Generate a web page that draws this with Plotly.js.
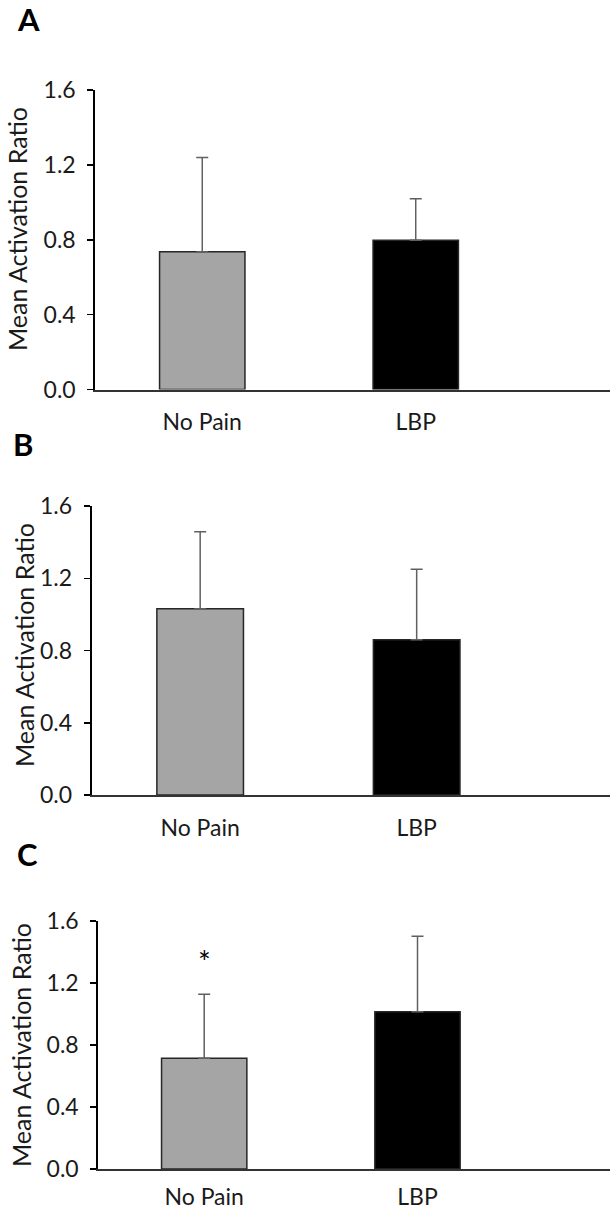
<!DOCTYPE html>
<html>
<head>
<meta charset="utf-8">
<script src="https://cdn.plot.ly/plotly-3.0.1.min.js"></script>
<style>html,body{margin:0;padding:0;background:#fff;}#chart{width:610px;height:1211px;}</style>
</head>
<body>
<div id="chart"></div>
<script>
// ---- data ----
var categories = ["No Pain", "LBP"];
var meansA = [0.736, 0.797];
var sdA = [0.504, 0.222];
var meansB = [1.031, 0.860];
var sdB = [0.427, 0.390];
var meansC = [0.714, 1.015];
var sdC = [0.413, 0.486];
var yTickVals = [0.0, 0.4, 0.8, 1.2, 1.6];
var yTickText = ["0.0", "0.4", "0.8", "1.2", "1.6"];
var panelLabels = ["A", "B", "C"];
var yTitle = "Mean Activation Ratio";
var sigMarkC = {x: "No Pain", y: 1.34, text: "*"};

// ---- layout helpers ----
var W = 610, H = 1211;
function px(x){ return x / W; }
function py(y){ return 1 - y / H; }
var FONT = "Lato, 'Open Sans', sans-serif";
var barColors = ["#a5a5a5", "#000000"];

function barTrace(means, sd, xa, ya){
  return {
    type: "bar", x: categories, y: means, xaxis: xa, yaxis: ya,
    width: 0.40,
    marker: {color: barColors, line: {color: "#262626", width: 1.5}},
    error_y: {type: "data", symmetric: false, array: sd, arrayminus: sd.map(function(){return 0;}),
              color: "#606060", thickness: 1.5, width: 6},
    showlegend: false, hoverinfo: "skip"
  };
}

var data = [
  barTrace(meansA, sdA, "x", "y"),
  barTrace(meansB, sdB, "x2", "y2"),
  barTrace(meansC, sdC, "x3", "y3")
];

// panel geometry in pixels
var panels = [
  {ax: 95.3, top: 90, bot: 389.5, xr: [-0.501, 1.910], xstand: 11},
  {ax: 91.7, top: 506, bot: 795, xr: [-0.501, 1.893], xstand: 11},
  {ax: 98.3, top: 921, bot: 1169, xr: [-0.4965, 1.9025], xstand: 6}
];

var TICK_SIZE = 23;
var layout = {
  width: W, height: H,
  margin: {l: 0, r: 0, t: 0, b: 0},
  paper_bgcolor: "#ffffff", plot_bgcolor: "rgba(0,0,0,0)",
  font: {family: FONT, color: "#1a1a1a", size: TICK_SIZE},
  bargap: 0, showlegend: false,
  annotations: []
};

var suffix = ["", "2", "3"];
panels.forEach(function(p, i){
  var xa = "xaxis" + suffix[i], ya = "yaxis" + suffix[i];
  layout[xa] = {
    domain: [px(p.ax), 1], range: p.xr, type: "category",
    anchor: "y" + suffix[i],
    showline: true, linecolor: "#333333", linewidth: 2,
    ticks: "", showgrid: false, zeroline: false,
    ticklabelstandoff: p.xstand,
    tickfont: {family: FONT, size: TICK_SIZE, color: "#1a1a1a"},
    fixedrange: true
  };
  layout[ya] = {
    domain: [py(p.bot), py(p.top)], range: [0, 1.6],
    anchor: "x" + suffix[i],
    tickvals: yTickVals, ticktext: yTickText,
    showline: true, linecolor: "#000000", linewidth: 2,
    ticks: "outside", ticklen: 6, tickwidth: 1.5, tickcolor: "#000000",
    ticklabelstandoff: 7,
    showgrid: false, zeroline: false,
    tickfont: {family: FONT, size: TICK_SIZE, color: "#1a1a1a"},
    fixedrange: true
  };
});

// y-axis titles (pixel centers)
var yTitlePos = [[17.5, 229.5], [24, 645], [21, 1045]];
yTitlePos.forEach(function(c){
  layout.annotations.push({
    xref: "paper", yref: "paper", x: px(c[0]), y: py(c[1]),
    xanchor: "center", yanchor: "middle", textangle: -90, showarrow: false,
    text: yTitle, font: {family: FONT, size: 25, color: "#1a1a1a"}
  });
});

// panel letters
var letterPos = [[28, 19], [22.5, 443.5], [27.5, 853.5]];
letterPos.forEach(function(c, i){
  layout.annotations.push({
    xref: "paper", yref: "paper", x: px(c[0]), y: py(c[1]),
    xanchor: "center", yanchor: "middle", showarrow: false,
    text: "<b>" + panelLabels[i] + "</b>", font: {family: FONT, size: 31, color: "#000000"}
  });
});

// significance marker in panel C
layout.annotations.push({
  xref: "x3", yref: "y3", x: sigMarkC.x, y: sigMarkC.y,
  xanchor: "center", yanchor: "middle", showarrow: false,
  text: sigMarkC.text, font: {family: FONT, size: 30, color: "#000000"}
});

Plotly.newPlot("chart", data, layout, {displayModeBar: false, staticPlot: true});
</script>
</body>
</html>
